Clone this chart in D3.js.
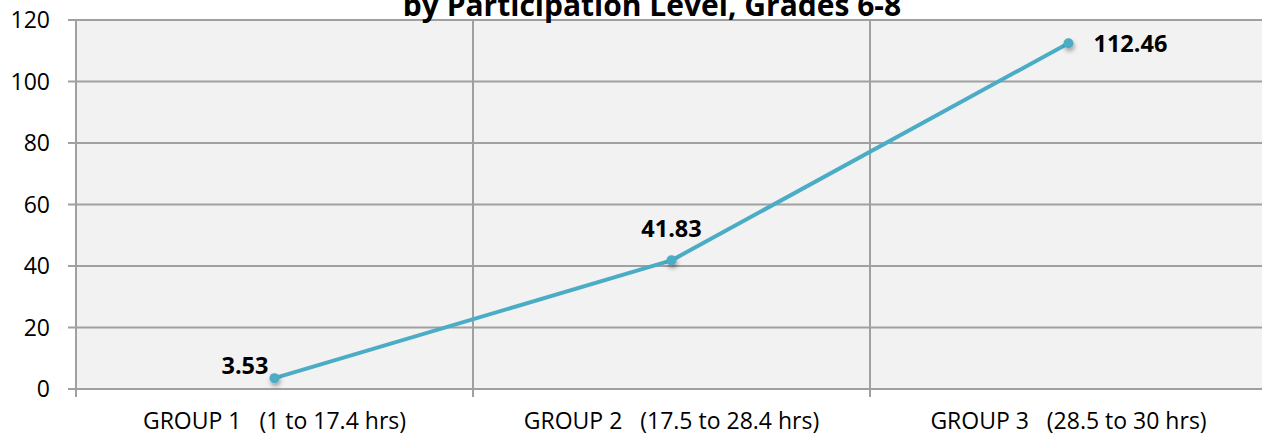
<!DOCTYPE html>
<html>
<head>
<meta charset="utf-8">
<script src="https://cdn.jsdelivr.net/npm/d3@7"></script>
<style>
  body { margin: 0; background: #fff; }
  svg { display: block; font-family: "Open Sans", sans-serif; }
</style>
</head>
<body>
<svg id="chart" width="1262" height="438"></svg>
<script>
var categories = ["GROUP 1   (1 to 17.4 hrs)", "GROUP 2   (17.5 to 28.4 hrs)", "GROUP 3   (28.5 to 30 hrs)"];
var values = [3.53, 41.83, 112.46];
var labelText = ["3.53", "41.83", "112.46"];
var yTicks = [0, 20, 40, 60, 80, 100, 120];
var title = "by Participation Level, Grades 6-8";

var svg = d3.select("#chart"),
	margin = {top: 20, left: 76, bottom: 49},
	plotW = 397 * 3,
	plotH = 438 - margin.top - margin.bottom;

var x = d3.scaleBand().domain(categories).range([0, plotW]);
var y = d3.scaleLinear().domain([0, 120]).range([plotH, 0]);

var defs = svg.append("defs");
var f = defs.append("filter").attr("id", "shadow").attr("x", "-100%").attr("y", "-100%").attr("width", "300%").attr("height", "300%");
f.append("feDropShadow").attr("dx", 1).attr("dy", 3).attr("stdDeviation", 2)
	.attr("flood-color", "#000").attr("flood-opacity", 0.35);

var g = svg.append("g").attr("transform", "translate(" + margin.left + "," + margin.top + ")");

// plot background
g.append("rect")
	.attr("width", plotW).attr("height", plotH)
	.attr("fill", "#f2f2f2");

// horizontal gridlines + y ticks
g.selectAll("line.hgrid").data(yTicks).enter()
	.append("line").attr("class", "hgrid")
	.attr("x1", -8).attr("x2", plotW)
	.attr("y1", function(d) { return y(d); })
	.attr("y2", function(d) { return y(d); })
	.attr("stroke", "#a0a0a0").attr("stroke-width", 2);

// vertical gridlines at category boundaries
var bounds = categories.map(function(c) { return x(c); });
g.selectAll("line.vgrid").data(bounds).enter()
	.append("line").attr("class", "vgrid")
	.attr("x1", function(d) { return d; }).attr("x2", function(d) { return d; })
	.attr("y1", 0).attr("y2", plotH + 8)
	.attr("stroke", "#a0a0a0").attr("stroke-width", 2);

// y labels
g.selectAll("text.ylab").data(yTicks).enter()
	.append("text").attr("class", "ylab")
	.attr("x", -26)
	.attr("y", function(d) { return y(d); })
	.attr("dy", "0.36em")
	.attr("text-anchor", "end")
	.attr("font-size", 23)
	.attr("fill", "#000")
	.text(function(d) { return d; });

// x labels
g.selectAll("text.xlab").data(categories).enter()
	.append("text").attr("class", "xlab")
	.attr("x", function(d) { return x(d) + x.bandwidth() / 2; })
	.attr("y", plotH + 40)
	.attr("text-anchor", "middle")
	.attr("font-size", 23)
	.attr("fill", "#000")
	.style("white-space", "pre")
	.text(function(d) { return d; });

// line
var pts = values.map(function(v, i) { return {c: categories[i], v: v, t: labelText[i], i: i}; });
var line = d3.line()
	.x(function(d) { return x(d.c) + x.bandwidth() / 2; })
	.y(function(d) { return y(d.v); });

g.append("path").datum(pts)
	.attr("d", line)
	.attr("fill", "none")
	.attr("stroke", "#4bacc6")
	.attr("stroke-width", 4)
	.attr("stroke-linejoin", "round");

g.selectAll("circle.pt").data(pts).enter()
	.append("circle").attr("class", "pt")
	.attr("cx", function(d) { return x(d.c) + x.bandwidth() / 2; })
	.attr("cy", function(d) { return y(d.v); })
	.attr("r", 5)
	.attr("fill", "#4bacc6")
	.attr("filter", "url(#shadow)");

// data labels: left, above, right
var pos = [
	{dx: -6, dy: -4, anchor: "end"},
	{dx: 0, dy: -23, anchor: "middle"},
	{dx: 25, dy: 9, anchor: "start"}
];
g.selectAll("text.dlab").data(pts).enter()
	.append("text").attr("class", "dlab")
	.attr("x", function(d) { return x(d.c) + x.bandwidth() / 2 + pos[d.i].dx; })
	.attr("y", function(d) { return y(d.v) + pos[d.i].dy; })
	.attr("text-anchor", function(d) { return pos[d.i].anchor; })
	.attr("font-size", 23.5)
	.attr("font-weight", "bold")
	.attr("fill", "#000")
	.text(function(d) { return d.t; });

// title (first line falls above the visible area)
svg.append("text")
	.attr("x", 652).attr("y", 16)
	.attr("text-anchor", "middle")
	.attr("font-size", 30)
	.attr("font-weight", "bold")
	.attr("fill", "#000")
	.text(title);
</script>
</body>
</html>
